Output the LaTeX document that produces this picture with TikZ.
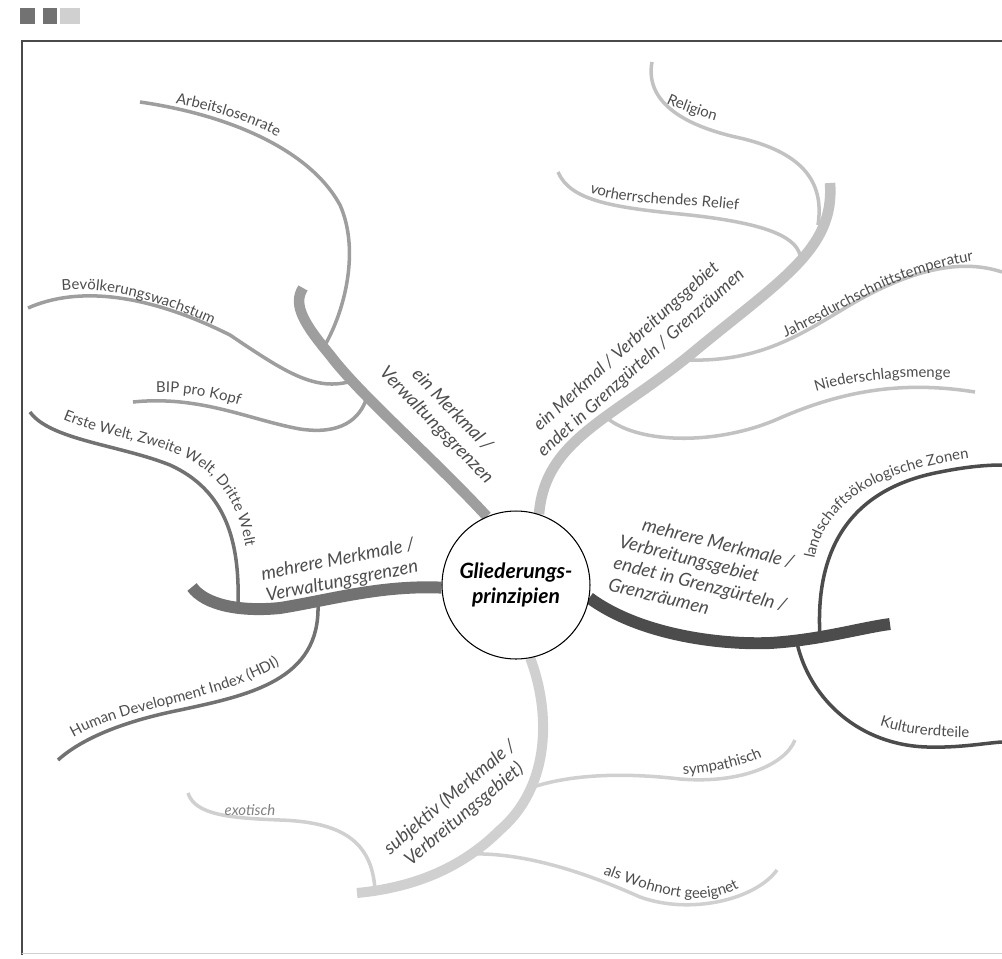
\documentclass[tikz,border=0pt]{standalone}
\usepackage{fontspec}
\setmainfont{Lato}
\usetikzlibrary{backgrounds,decorations.text}

\definecolor{frameline}{HTML}{4A4A4A}
\definecolor{graybranch}{HTML}{9E9E9E}
\definecolor{palebranch}{HTML}{C2C2C2}
\definecolor{darkbranch}{HTML}{4C4C4C}
\definecolor{midbranch}{HTML}{727272}
\definecolor{faintbranch}{HTML}{D0D0D0}
\definecolor{labelgray}{HTML}{4D4D4D}

\newcommand{\twigfont}{\fontsize{8.5}{10}\selectfont\color{labelgray}}

\begin{document}
\begin{tikzpicture}[x=0.02cm, y=-0.02cm, line cap=round,
        main branch/.style={line width=6pt},
        sub branch/.style={line width=2pt},
        branch label/.style={font=\itshape\fontsize{10.5}{12.5}\selectfont, text=labelgray, inner sep=0pt},
        twig label/.style={decorate, decoration={text along path, text align=center, text={|\twigfont|#1}}},
        hub/.style={circle, draw, line width=0.6pt, fill=white, minimum size=2.96cm, inner sep=0pt,
            align=center, font=\bfseries\itshape\fontsize{12}{14.5}\selectfont}]

    \useasboundingbox (0,0) rectangle (1002,958);

    \fill[midbranch] (20,8) rectangle (35,24);
    \fill[midbranch] (43,8) rectangle (57,24);
    \fill[faintbranch] (60,8) rectangle (80,24);
    \draw[frameline, line width=0.8pt, line cap=butt] (1002,41) -- (22,41) -- (22,955);
    \draw[faintbranch, line width=0.5pt] (22,953) -- (1002,953);

    \node[hub] (hub) at (516,585) {Gliederungs-\\prinzipien};

    \coordinate (vwtip) at (303,288);
    \coordinate (arbeit) at (325,345);
    \coordinate (arbeittip) at (140,102);
    \coordinate (bevoelk) at (352,381);
    \coordinate (bevoelktip) at (28,308);
    \coordinate (bip) at (367,397);
    \coordinate (biptip) at (133,402);

    \coordinate (vbtip) at (830,183);
    \coordinate (religion) at (818,225);
    \coordinate (religiontip) at (652,62);
    \coordinate (relief) at (800,255);
    \coordinate (relieftip) at (558,172);
    \coordinate (jahres) at (688,360);
    \coordinate (jahrestip) at (1002,272);
    \coordinate (nieder) at (607,418);
    \coordinate (niedertip) at (975,392);

    \coordinate (grenztip) at (890,624);
    \coordinate (zonen) at (820,637);
    \coordinate (zonentip) at (1002,465);
    \coordinate (kultur) at (797,643);
    \coordinate (kulturtip) at (1002,742);

    \coordinate (mehrtip) at (192,587);
    \coordinate (welt) at (238,605);
    \coordinate (welttip) at (30,412);
    \coordinate (hdi) at (318,605);
    \coordinate (hditip) at (58,760);

    \coordinate (subjtip) at (357,893);
    \coordinate (exot) at (375,890);
    \coordinate (exottip) at (188,793);
    \coordinate (symp) at (533,787);
    \coordinate (symptip) at (795,740);
    \coordinate (wohn) at (468,854);
    \coordinate (wohntip) at (777,870);

    \begin{scope}[on background layer]
        \draw[main branch, graybranch] (hub.113) .. controls (430,455) and (360,395) .. (330,355)
            .. controls (305,325) and (292,305) .. (vwtip);
        \draw[sub branch, graybranch] (arbeit) .. controls (345,310) and (360,250) .. (340,205)
            .. controls (310,150) and (230,115) .. (arbeittip);
        \draw[sub branch, graybranch] (bevoelk) .. controls (315,392) and (285,372) .. (230,335)
            .. controls (150,295) and (80,285) .. (bevoelktip);
        \draw[sub branch, graybranch] (bip) .. controls (360,420) and (340,435) .. (300,429)
            .. controls (250,420) and (200,395) .. (biptip);

        \draw[main branch, palebranch] (hub.72) .. controls (545,440) and (610,420) .. (690,355)
            .. controls (780,280) and (835,250) .. (vbtip);
        \draw[sub branch, palebranch] (religion) .. controls (825,180) and (800,152) .. (740,138)
            .. controls (680,125) and (645,100) .. (religiontip);
        \draw[sub branch, palebranch] (relief) .. controls (795,235) and (760,222) .. (680,214)
            .. controls (610,207) and (570,200) .. (relieftip);
        \draw[sub branch, palebranch] (jahres) .. controls (760,362) and (800,335) .. (850,305)
            .. controls (910,270) and (960,258) .. (jahrestip);
        \draw[sub branch, palebranch] (nieder) .. controls (640,445) and (720,445) .. (780,418)
            .. controls (840,392) and (900,380) .. (niedertip);

        \draw[main branch, darkbranch, line width=6.8pt] (hub.350) .. controls (640,635) and (720,645) .. (770,643)
            .. controls (820,640) and (860,628) .. (grenztip);
        \draw[sub branch, darkbranch] (zonen) .. controls (815,555) and (845,490) .. (940,472)
            .. controls (965,467) and (985,465) .. (zonentip);
        \draw[sub branch, darkbranch] (kultur) .. controls (810,700) and (860,745) .. (927,747)
            .. controls (960,748) and (985,743) .. (kulturtip);

        \draw[main branch, midbranch, line width=6.8pt] (hub.182) .. controls (380,585) and (330,600) .. (280,608)
            .. controls (240,612) and (205,605) .. (mehrtip);
        \draw[sub branch, midbranch] (welt) .. controls (240,540) and (225,490) .. (170,465)
            .. controls (120,445) and (50,440) .. (welttip);
        \draw[sub branch, midbranch] (hdi) .. controls (320,680) and (250,695) .. (180,710)
            .. controls (120,722) and (80,740) .. (hditip);

        \draw[main branch, faintbranch, line width=5.7pt] (hub.281) .. controls (550,710) and (552,785) .. (500,830)
            .. controls (460,870) and (410,888) .. (subjtip);
        \draw[sub branch, faintbranch] (exot) .. controls (372,840) and (340,822) .. (280,820)
            .. controls (230,818) and (195,815) .. (exottip);
        \draw[sub branch, faintbranch] (symp) .. controls (570,775) and (620,772) .. (680,779)
            .. controls (740,784) and (785,765) .. (symptip);
        \draw[sub branch, faintbranch] (wohn) .. controls (520,852) and (580,870) .. (640,897)
            .. controls (690,915) and (755,900) .. (wohntip);
    \end{scope}

    \node[branch label, rotate=-46, align=center] (vwlabel) at (444,418) {ein Merkmal /\\Verwaltungsgrenzen};
    \node[branch label, rotate=42, align=center, font=\itshape\fontsize{10}{12.5}\selectfont] (vblabel) at (634,355)
        {ein Merkmal / Verbreitungsgebiet\\endet in Grenzgürteln / Grenzräumen};
    \node[branch label, rotate=-14, align=left] (grenzlabel) at (703,573)
        {\hspace*{1em}mehrere Merkmale /\\Verbreitungsgebiet\\endet in Grenzgürteln /\\Grenzräumen};
    \node[branch label, rotate=11, align=center] (mehrlabel) at (340,571) {mehrere Merkmale /\\Verwaltungsgrenzen};
    \node[branch label, rotate=40, align=center] (subjlabel) at (457,806) {subjektiv (Merkmale /\\Verbreitungsgebiet)};
    \node[font=\itshape\fontsize{8.5}{10}\selectfont, text=gray] (exotlabel) at (250,810) {exotisch};

    \path[twig label=Arbeitslosenrate] (150,99) .. controls (200,106) and (255,120) .. (300,150);
    \path[twig label=Bevölkerungswachstum] (45,293) .. controls (90,282) and (160,298) .. (228,332);
    \path[twig label=BIP pro Kopf] (140,394) .. controls (180,390) and (215,396) .. (255,410);
    \path[twig label={Erste Welt, Zweite Welt, Dritte Welt}] (30,400) .. controls (80,440) and (160,435) .. (205,470)
        .. controls (235,495) and (247,530) .. (249,585);
    \path[twig label=Human Development Index (HDI)] (55,750) .. controls (115,700) and (230,708) .. (298,652);
    \path[twig label=Religion] (660,100) .. controls (675,108) and (695,115) .. (722,123);
    \path[twig label=vorherrschendes Relief] (572,180) .. controls (590,202) and (640,203) .. (700,206) -- (760,212);
    \path[twig label=Jahresdurchschnittstemperatur] (765,345) .. controls (830,325) and (880,270) .. (995,258);
    \path[twig label=Niederschlagsmenge] (805,395) .. controls (850,380) and (900,375) .. (962,378);
    \path[twig label=landschaftsökologische Zonen] (812,590) .. controls (810,520) and (850,468) .. (1000,455);
    \path[twig label=Kulturerdteile] (865,720) .. controls (900,735) and (935,738) .. (985,737);
    \path[twig label=sympathisch] (672,775) .. controls (705,774) and (745,768) .. (772,752);
    \path[twig label=als Wohnort geeignet] (588,868) .. controls (630,885) and (670,900) .. (700,898)
        .. controls (725,897) and (742,888) .. (752,878);
\end{tikzpicture}
\end{document}
